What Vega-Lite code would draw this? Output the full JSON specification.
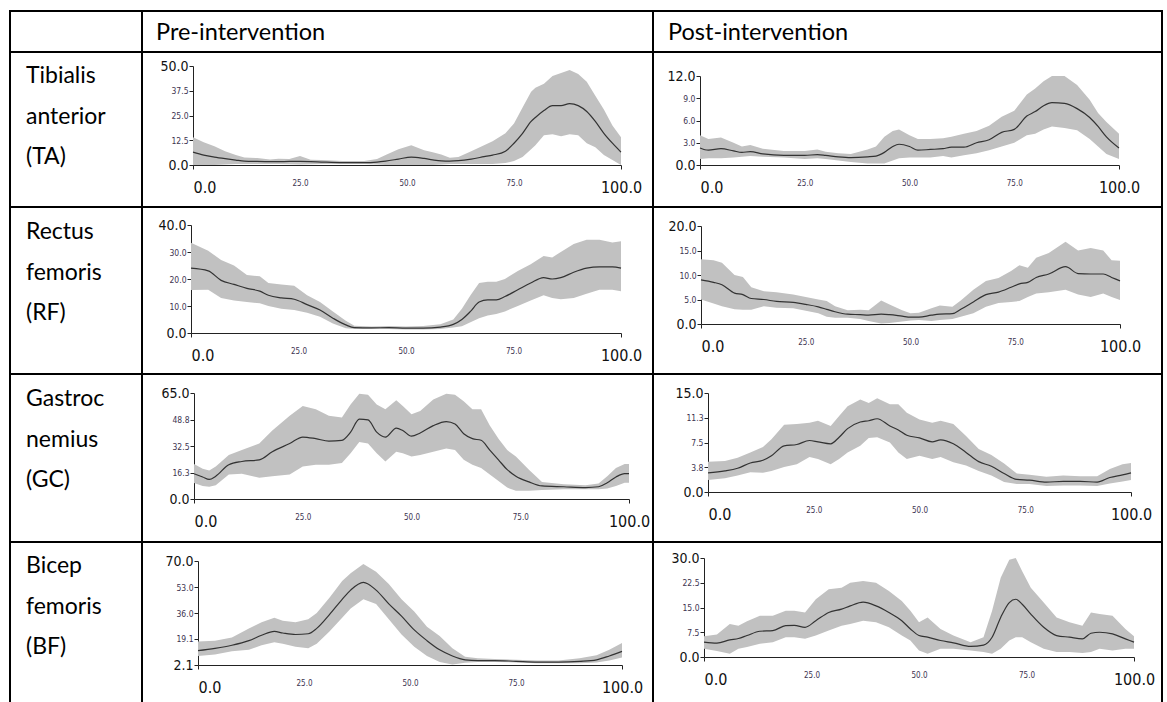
{
  "$schema": "https://vega.github.io/schema/vega-lite/v6.json",
  "background": "white",
  "padding": {"left": 9, "top": 10, "right": 6, "bottom": 0},
  "spacing": 0,
  "bounds": "flush",
  "align": "each",
  "columns": 3,
  "config": {
    "view": {"stroke": "black", "strokeWidth": 2},
    "axis": {"grid": false, "domainColor": "#222", "tickColor": "#222", "tickSize": 4, "domainWidth": 1, "tickWidth": 1, "labelOverlap": false, "labelFont": "Liberation Sans Narrow, Arial Narrow, DejaVu Sans Condensed, Liberation Sans, sans-serif"},
    "axisX": {"labelFlush": false, "labelPadding": 10, "labelBaseline": "top", "labelOverlap": false},
    "axisY": {"labelPadding": 1, "labelOverlap": false}
  },
  "datasets": {
    "ta_pre": [
      {"t":0,"m":6.5,"lo":0,"hi":14},{"t":2.5,"m":5,"lo":0,"hi":11.5},{"t":5,"m":4,"lo":0,"hi":9.5},{"t":7.5,"m":3.2,"lo":0.3,"hi":7},{"t":10,"m":2.5,"lo":0.5,"hi":5},{"t":12,"m":2,"lo":0.5,"hi":3.8},{"t":15,"m":1.8,"lo":0.5,"hi":3.5},{"t":18,"m":1.7,"lo":0.5,"hi":2.8},{"t":20,"m":1.7,"lo":0.5,"hi":3.2},{"t":22.5,"m":1.8,"lo":0.4,"hi":3},{"t":25,"m":1.8,"lo":0.3,"hi":4.5},{"t":27.5,"m":1.7,"lo":0.4,"hi":2.7},{"t":30,"m":1.5,"lo":0.5,"hi":2.5},{"t":35,"m":1.2,"lo":0.5,"hi":2},{"t":40,"m":1.2,"lo":0.5,"hi":2},{"t":43,"m":1.5,"lo":0.3,"hi":3},{"t":45,"m":2,"lo":0,"hi":5},{"t":48,"m":3,"lo":0,"hi":8},{"t":51,"m":4,"lo":0,"hi":10},{"t":54,"m":3.3,"lo":0,"hi":7.5},{"t":56,"m":2.6,"lo":0,"hi":6.5},{"t":58,"m":2.1,"lo":0.3,"hi":5.3},{"t":60,"m":2,"lo":0.5,"hi":3.6},{"t":62,"m":2.2,"lo":0.5,"hi":4},{"t":65,"m":3,"lo":0.5,"hi":7},{"t":68,"m":4.2,"lo":0.5,"hi":10},{"t":70,"m":5,"lo":0.5,"hi":12},{"t":73,"m":7,"lo":1,"hi":16},{"t":75,"m":11,"lo":2,"hi":21},{"t":77,"m":16,"lo":4,"hi":29},{"t":79,"m":22,"lo":8,"hi":37},{"t":80,"m":24,"lo":10,"hi":39},{"t":82,"m":27.5,"lo":15,"hi":41},{"t":84,"m":30,"lo":15.5,"hi":45},{"t":86,"m":30,"lo":14.5,"hi":46.5},{"t":88,"m":31,"lo":15.5,"hi":48},{"t":90,"m":30,"lo":15,"hi":46},{"t":92,"m":27,"lo":11,"hi":42},{"t":94,"m":22,"lo":9,"hi":35},{"t":96,"m":16,"lo":5,"hi":28},{"t":98,"m":11,"lo":2.5,"hi":20},{"t":100,"m":6.5,"lo":0,"hi":14}
    ],
    "ta_post": [
      {"t":0,"m":2.3,"lo":0.8,"hi":4.0},{"t":2,"m":2.0,"lo":0.9,"hi":3.5},{"t":5,"m":2.2,"lo":0.9,"hi":3.7},{"t":8,"m":1.9,"lo":1.0,"hi":3.0},{"t":10,"m":1.7,"lo":1.1,"hi":2.5},{"t":12,"m":1.8,"lo":1.2,"hi":2.7},{"t":15,"m":1.5,"lo":1.1,"hi":2.2},{"t":20,"m":1.3,"lo":1.0,"hi":1.9},{"t":25,"m":1.3,"lo":0.8,"hi":1.9},{"t":28,"m":1.4,"lo":0.9,"hi":2.1},{"t":30,"m":1.3,"lo":0.8,"hi":1.8},{"t":33,"m":1.1,"lo":0.6,"hi":1.6},{"t":36,"m":1.0,"lo":0.4,"hi":1.5},{"t":40,"m":1.1,"lo":0.2,"hi":2.1},{"t":42,"m":1.2,"lo":0.2,"hi":2.5},{"t":44,"m":1.7,"lo":0.2,"hi":3.8},{"t":46,"m":2.5,"lo":0.6,"hi":4.6},{"t":47.5,"m":2.8,"lo":0.9,"hi":4.8},{"t":50,"m":2.5,"lo":1.0,"hi":4.0},{"t":52,"m":2.0,"lo":1.0,"hi":3.5},{"t":55,"m":2.1,"lo":1.0,"hi":3.5},{"t":58,"m":2.2,"lo":1.2,"hi":3.6},{"t":60,"m":2.4,"lo":1.0,"hi":3.8},{"t":63,"m":2.4,"lo":1.3,"hi":4.2},{"t":66,"m":3.0,"lo":1.6,"hi":4.6},{"t":69,"m":3.4,"lo":2.0,"hi":5.3},{"t":72,"m":4.4,"lo":2.5,"hi":6.5},{"t":75,"m":4.8,"lo":3.0,"hi":7.3},{"t":78,"m":6.6,"lo":4.0,"hi":9.5},{"t":80,"m":7.2,"lo":4.2,"hi":10.3},{"t":82,"m":8.0,"lo":4.8,"hi":11.3},{"t":84,"m":8.4,"lo":5.2,"hi":12.0},{"t":87,"m":8.3,"lo":5.0,"hi":12.0},{"t":90,"m":7.6,"lo":4.7,"hi":10.8},{"t":93,"m":6.4,"lo":3.5,"hi":8.8},{"t":95,"m":5.2,"lo":2.5,"hi":7.0},{"t":97,"m":3.8,"lo":1.5,"hi":5.8},{"t":100,"m":2.3,"lo":0.8,"hi":4.2}
    ],
    "rf_pre": [
      {"t":0,"m":24,"lo":15.9,"hi":33.4},{"t":4,"m":23,"lo":16,"hi":30.5},{"t":7,"m":19.5,"lo":13,"hi":27},{"t":10,"m":18,"lo":12,"hi":25},{"t":13,"m":16.5,"lo":11.5,"hi":21.5},{"t":16,"m":15.5,"lo":11,"hi":21},{"t":18,"m":14,"lo":10,"hi":18.5},{"t":21,"m":13,"lo":9,"hi":18},{"t":24,"m":12.5,"lo":8.5,"hi":17.5},{"t":27,"m":10.5,"lo":7.5,"hi":14},{"t":30,"m":8.5,"lo":6,"hi":11.5},{"t":33,"m":5.5,"lo":3.5,"hi":8},{"t":36,"m":3,"lo":1.8,"hi":4.5},{"t":38,"m":2.0,"lo":1.5,"hi":2.7},{"t":42,"m":1.9,"lo":1.5,"hi":2.4},{"t":46,"m":2.0,"lo":1.5,"hi":2.6},{"t":50,"m":1.8,"lo":1.3,"hi":2.4},{"t":54,"m":1.8,"lo":1.3,"hi":2.6},{"t":58,"m":2.2,"lo":1.5,"hi":3.2},{"t":61,"m":3.2,"lo":2.0,"hi":5},{"t":63,"m":5,"lo":2.5,"hi":9},{"t":65,"m":8,"lo":4,"hi":14},{"t":67,"m":11.5,"lo":5.5,"hi":18.5},{"t":69,"m":12.3,"lo":6.5,"hi":19},{"t":71,"m":12.3,"lo":7,"hi":19},{"t":73,"m":13.5,"lo":8,"hi":20},{"t":76,"m":16,"lo":10,"hi":23},{"t":79,"m":18.5,"lo":12,"hi":25.5},{"t":82,"m":20.5,"lo":14,"hi":28.5},{"t":84,"m":20,"lo":13,"hi":28},{"t":86,"m":20.5,"lo":12.5,"hi":30},{"t":89,"m":22.5,"lo":13,"hi":33},{"t":92,"m":24,"lo":14.5,"hi":34.5},{"t":95,"m":24.5,"lo":16,"hi":34.5},{"t":98,"m":24.5,"lo":16,"hi":33.5},{"t":100,"m":24,"lo":15.5,"hi":34}
    ],
    "rf_post": [
      {"t":0,"m":9,"lo":5,"hi":13.2},{"t":3,"m":8.5,"lo":4.2,"hi":13},{"t":5,"m":8,"lo":3.6,"hi":12.5},{"t":8,"m":6.3,"lo":3,"hi":10},{"t":10,"m":6.0,"lo":2.9,"hi":9.6},{"t":12,"m":5.2,"lo":2.9,"hi":7.5},{"t":15,"m":5.0,"lo":3.6,"hi":6.7},{"t":18,"m":4.6,"lo":3.3,"hi":6.5},{"t":22,"m":4.4,"lo":3.2,"hi":6.0},{"t":25,"m":4.0,"lo":2.7,"hi":5.5},{"t":28,"m":3.5,"lo":2.2,"hi":5.0},{"t":30,"m":3.0,"lo":1.5,"hi":4.7},{"t":32,"m":2.5,"lo":1.3,"hi":3.6},{"t":35,"m":2.0,"lo":1.3,"hi":2.8},{"t":38,"m":1.9,"lo":1.0,"hi":2.9},{"t":40,"m":1.8,"lo":0.6,"hi":2.8},{"t":43,"m":2.0,"lo":0.1,"hi":4.8},{"t":45,"m":1.9,"lo":0.2,"hi":4.0},{"t":48,"m":1.6,"lo":0.5,"hi":2.8},{"t":50,"m":1.4,"lo":0.7,"hi":2.2},{"t":52,"m":1.4,"lo":0.8,"hi":2.3},{"t":55,"m":1.8,"lo":0.6,"hi":3.2},{"t":57,"m":2.0,"lo":0.8,"hi":3.8},{"t":60,"m":2.1,"lo":1.0,"hi":3.5},{"t":62,"m":3.0,"lo":1.5,"hi":4.8},{"t":65,"m":4.5,"lo":2.2,"hi":7.0},{"t":68,"m":6.0,"lo":3.5,"hi":8.8},{"t":71,"m":6.5,"lo":4.3,"hi":9.4},{"t":74,"m":7.5,"lo":4.5,"hi":10.8},{"t":76,"m":8.2,"lo":4.7,"hi":12},{"t":78,"m":8.5,"lo":5.5,"hi":11.5},{"t":80,"m":9.5,"lo":6.2,"hi":13.5},{"t":83,"m":10.2,"lo":6.5,"hi":14.5},{"t":87,"m":11.7,"lo":7.0,"hi":16.8},{"t":90,"m":10.3,"lo":6.0,"hi":15.0},{"t":93,"m":10.2,"lo":5.5,"hi":15.5},{"t":96,"m":10.2,"lo":6.2,"hi":15.0},{"t":98,"m":9.5,"lo":5.5,"hi":13.0},{"t":100,"m":8.8,"lo":4.9,"hi":12.9}
    ],
    "gc_pre": [
      {"t":0,"m":15.5,"lo":9.8,"hi":21.5},{"t":2,"m":13.5,"lo":8,"hi":18.5},{"t":3.5,"m":12,"lo":7.5,"hi":17.5},{"t":5,"m":14,"lo":8.5,"hi":20},{"t":8,"m":21,"lo":15,"hi":27},{"t":11,"m":23,"lo":15.5,"hi":30},{"t":15,"m":24,"lo":13,"hi":34},{"t":18,"m":29,"lo":14,"hi":42},{"t":22,"m":34,"lo":15,"hi":51},{"t":25,"m":38,"lo":20,"hi":57},{"t":28,"m":37,"lo":21,"hi":55},{"t":31,"m":35.5,"lo":21,"hi":51},{"t":34,"m":36,"lo":22,"hi":50},{"t":36,"m":41,"lo":28,"hi":58},{"t":38,"m":49,"lo":35,"hi":64.5},{"t":40,"m":48.5,"lo":34,"hi":64},{"t":42,"m":41,"lo":28,"hi":58},{"t":44,"m":38,"lo":23,"hi":55},{"t":46.5,"m":43.5,"lo":29,"hi":60.5},{"t":48,"m":42,"lo":28,"hi":57},{"t":50,"m":38.5,"lo":26,"hi":52},{"t":52,"m":40.5,"lo":27,"hi":54},{"t":55,"m":45,"lo":29,"hi":61},{"t":58,"m":47.5,"lo":31,"hi":64.5},{"t":60,"m":46,"lo":30,"hi":64},{"t":62,"m":40,"lo":24,"hi":60},{"t":64,"m":37,"lo":21,"hi":55},{"t":66,"m":36,"lo":19,"hi":55},{"t":68,"m":30,"lo":15,"hi":45},{"t":70,"m":24,"lo":11,"hi":37},{"t":72,"m":18,"lo":7,"hi":30},{"t":74,"m":14,"lo":5,"hi":26},{"t":77,"m":10.5,"lo":5,"hi":18},{"t":80,"m":8,"lo":5.5,"hi":10.5},{"t":85,"m":7.5,"lo":6,"hi":9},{"t":90,"m":7,"lo":6,"hi":8.5},{"t":93,"m":7.5,"lo":6,"hi":9.5},{"t":95,"m":10,"lo":6.5,"hi":14},{"t":97,"m":13.5,"lo":8,"hi":19},{"t":99,"m":15.5,"lo":10,"hi":21.5},{"t":100,"m":15.5,"lo":10,"hi":21.5}
    ],
    "gc_post": [
      {"t":0,"m":2.9,"lo":1.8,"hi":4.6},{"t":4,"m":3.2,"lo":2.1,"hi":4.7},{"t":7,"m":3.6,"lo":2.5,"hi":5.2},{"t":10,"m":4.4,"lo":3.0,"hi":6.0},{"t":13,"m":4.8,"lo":2.9,"hi":6.8},{"t":15,"m":5.5,"lo":3.2,"hi":8.0},{"t":18,"m":7.0,"lo":3.8,"hi":10.2},{"t":21,"m":7.2,"lo":4.2,"hi":10.3},{"t":24,"m":7.8,"lo":5.3,"hi":10.5},{"t":26,"m":7.6,"lo":5.0,"hi":10.8},{"t":29,"m":7.3,"lo":4.2,"hi":10.0},{"t":31,"m":8.3,"lo":5.0,"hi":11.5},{"t":33,"m":9.6,"lo":6.0,"hi":13.0},{"t":36,"m":10.6,"lo":7.0,"hi":14.0},{"t":38,"m":10.8,"lo":8.2,"hi":13.5},{"t":40,"m":11.1,"lo":8.3,"hi":14.2},{"t":43,"m":10.0,"lo":7.5,"hi":13.3},{"t":45,"m":9.4,"lo":6.0,"hi":13.3},{"t":47,"m":8.6,"lo":5.0,"hi":12.0},{"t":50,"m":8.2,"lo":5.5,"hi":11.0},{"t":53,"m":7.6,"lo":5.0,"hi":10.5},{"t":55,"m":7.9,"lo":5.3,"hi":10.8},{"t":58,"m":7.3,"lo":4.5,"hi":10.3},{"t":61,"m":6.0,"lo":4.0,"hi":8.5},{"t":64,"m":4.6,"lo":3.2,"hi":6.5},{"t":67,"m":3.9,"lo":2.5,"hi":5.6},{"t":70,"m":2.8,"lo":1.5,"hi":4.3},{"t":73,"m":1.9,"lo":1.2,"hi":2.8},{"t":76,"m":1.8,"lo":1.2,"hi":2.6},{"t":80,"m":1.5,"lo":0.9,"hi":2.3},{"t":84,"m":1.6,"lo":1.0,"hi":2.5},{"t":88,"m":1.6,"lo":1.0,"hi":2.4},{"t":92,"m":1.5,"lo":0.9,"hi":2.4},{"t":95,"m":2.2,"lo":1.3,"hi":3.5},{"t":98,"m":2.6,"lo":1.6,"hi":4.2},{"t":100,"m":2.9,"lo":1.8,"hi":4.4}
    ],
    "bf_pre": [
      {"t":0,"m":11.5,"lo":8,"hi":17.5},{"t":4,"m":13,"lo":9,"hi":18},{"t":8,"m":15,"lo":11,"hi":20},{"t":12,"m":18,"lo":12,"hi":26},{"t":15,"m":21.5,"lo":15,"hi":30},{"t":18,"m":24,"lo":17,"hi":33},{"t":20,"m":23,"lo":16,"hi":31},{"t":23,"m":22,"lo":14,"hi":30},{"t":26,"m":22.5,"lo":13,"hi":32},{"t":28,"m":26,"lo":16,"hi":36},{"t":31,"m":35,"lo":24,"hi":46},{"t":34,"m":45,"lo":33,"hi":57},{"t":36,"m":51,"lo":39,"hi":62},{"t":39,"m":56,"lo":45,"hi":68},{"t":42,"m":51,"lo":42,"hi":63},{"t":45,"m":42,"lo":32,"hi":55},{"t":48,"m":34,"lo":22,"hi":45},{"t":51,"m":25,"lo":14,"hi":37},{"t":54,"m":18,"lo":8,"hi":27},{"t":57,"m":12,"lo":4,"hi":21},{"t":60,"m":8,"lo":2.5,"hi":13},{"t":63,"m":5.5,"lo":3.5,"hi":7.5},{"t":66,"m":5,"lo":4,"hi":6.5},{"t":70,"m":5,"lo":4,"hi":6},{"t":75,"m":4.5,"lo":3.8,"hi":5.5},{"t":80,"m":4,"lo":3.3,"hi":5},{"t":85,"m":4,"lo":3.3,"hi":5},{"t":90,"m":4.5,"lo":3.3,"hi":6.5},{"t":94,"m":5.5,"lo":3.8,"hi":8.5},{"t":97,"m":8,"lo":5,"hi":12},{"t":100,"m":11,"lo":7,"hi":16.5}
    ],
    "bf_post": [
      {"t":0,"m":4.5,"lo":2.5,"hi":6.3},{"t":3,"m":4.2,"lo":1.8,"hi":6.8},{"t":6,"m":5.2,"lo":1.0,"hi":10},{"t":8,"m":5.6,"lo":2.5,"hi":9.5},{"t":10,"m":6.5,"lo":3.0,"hi":10.8},{"t":13,"m":7.8,"lo":4.0,"hi":12.5},{"t":16,"m":8.0,"lo":4.5,"hi":12.5},{"t":19,"m":9.5,"lo":6.0,"hi":14.0},{"t":21,"m":9.6,"lo":6.0,"hi":14.0},{"t":23.5,"m":9.0,"lo":5.5,"hi":13.5},{"t":26,"m":11.0,"lo":6.5,"hi":17.5},{"t":29,"m":13.5,"lo":8.0,"hi":20.5},{"t":32,"m":14.5,"lo":9.5,"hi":21.0},{"t":34,"m":15.5,"lo":10.0,"hi":22.5},{"t":37,"m":16.6,"lo":11.0,"hi":23.0},{"t":40,"m":15.5,"lo":10.5,"hi":22.5},{"t":43,"m":13.5,"lo":9.0,"hi":20.0},{"t":46,"m":11.0,"lo":6.5,"hi":17.0},{"t":48,"m":8.5,"lo":5.0,"hi":14.0},{"t":50,"m":6.5,"lo":2.0,"hi":10.5},{"t":52,"m":6.0,"lo":1.0,"hi":12.0},{"t":55,"m":5.0,"lo":2.5,"hi":8.5},{"t":58,"m":4.3,"lo":2.5,"hi":6.5},{"t":62,"m":3.2,"lo":2.0,"hi":4.5},{"t":65,"m":3.6,"lo":1.5,"hi":6.0},{"t":67,"m":6.0,"lo":1.0,"hi":14.0},{"t":69,"m":12.0,"lo":2.5,"hi":24.0},{"t":71,"m":16.5,"lo":5.0,"hi":29.5},{"t":72.5,"m":17.5,"lo":6.0,"hi":30.0},{"t":74,"m":16.0,"lo":6.0,"hi":26.0},{"t":76,"m":13.0,"lo":4.5,"hi":21.0},{"t":79,"m":9.0,"lo":2.5,"hi":16.5},{"t":82,"m":6.5,"lo":1.5,"hi":12.0},{"t":85,"m":6.0,"lo":1.5,"hi":10.5},{"t":88,"m":5.5,"lo":1.2,"hi":9.5},{"t":90,"m":7.2,"lo":1.5,"hi":13.5},{"t":92,"m":7.5,"lo":2.5,"hi":13.0},{"t":95,"m":7.0,"lo":2.0,"hi":12.5},{"t":98,"m":5.5,"lo":2.5,"hi":8.5},{"t":100,"m":4.5,"lo":2.5,"hi":6.3}
    ]
  },
  "concat": [
    {"width": 132, "height": 41, "data": {"values": [{"label": " "}]},
     "mark": {"type": "text", "align": "left", "baseline": "alphabetic", "font": "Lato", "fontSize": 23, "color": "black"},
     "encoding": {"text": {"field": "label"},
       "x": {"datum": 0, "type": "quantitative", "scale": {"domain": [0, 1], "range": [14, 132]}, "axis": null},
       "y": {"datum": 0, "type": "quantitative", "scale": {"domain": [0, 1], "range": [29, 41]}, "axis": null}}},
    {"width": 511, "height": 41, "data": {"values": [{"label": "Pre-intervention"}]},
     "mark": {"type": "text", "align": "left", "baseline": "alphabetic", "font": "Lato", "fontSize": 23.5, "color": "black"},
     "encoding": {"text": {"field": "label"},
       "x": {"datum": 0, "type": "quantitative", "scale": {"domain": [0, 1], "range": [14, 511]}, "axis": null},
       "y": {"datum": 0, "type": "quantitative", "scale": {"domain": [0, 1], "range": [29, 41]}, "axis": null}}},
    {"width": 509, "height": 41, "data": {"values": [{"label": "Post-intervention"}]},
     "mark": {"type": "text", "align": "left", "baseline": "alphabetic", "font": "Lato", "fontSize": 23.5, "color": "black"},
     "encoding": {"text": {"field": "label"},
       "x": {"datum": 0, "type": "quantitative", "scale": {"domain": [0, 1], "range": [15, 509]}, "axis": null},
       "y": {"datum": 0, "type": "quantitative", "scale": {"domain": [0, 1], "range": [29, 41]}, "axis": null}}},

    {"width": 132, "height": 155, "data": {"values": [{"label": "Tibialis\nanterior\n(TA)"}]},
     "mark": {"type": "text", "align": "left", "baseline": "alphabetic", "lineBreak": "\n", "lineHeight": 40.5, "font": "Lato", "fontSize": 23, "color": "black"},
     "encoding": {"text": {"field": "label"},
       "x": {"datum": 0, "type": "quantitative", "scale": {"domain": [0, 1], "range": [16, 132]}, "axis": null},
       "y": {"datum": 0, "type": "quantitative", "scale": {"domain": [0, 1], "range": [31, 155]}, "axis": null}}},
    {"width": 511, "height": 155, "data": {"name": "ta_pre"},
     "layer": [
       {"mark": {"type": "area", "color": "#c1c1c1"},
        "encoding": {
          "x": {"field": "t", "type": "quantitative", "title": null, "scale": {"domain": [0, 100], "range": [51, 479], "nice": false, "zero": false},
                "axis": {"values": [0, 25, 50, 75, 100], "tickCount": 10, "format": ".1f", "offset": -42, "labelOverlap": false,
                         "labelAlign": {"condition": {"test": "datum.index == 0", "value": "left"}, "value": "center"},
                         "labelFontSize": {"condition": {"test": "datum.index == 0 || datum.index == 1", "value": 16}, "value": 8},
                         "labelColor": {"condition": {"test": "datum.index == 0 || datum.index == 1", "value": "#111"}, "value": "#3d3350"},
                         "tickOpacity": {"condition": {"test": "datum.index == 0 || datum.index == 1", "value": 1}, "value": 0}}},
          "y": {"field": "lo", "type": "quantitative", "title": null, "scale": {"domain": [0, 50], "range": [113, 14], "nice": false, "zero": false},
                "axis": {"values": [0, 12.5, 25, 37.5, 50], "tickCount": 10, "format": ".1f", "offset": -51, "labelOverlap": false,
                         "labelFontSize": {"condition": {"test": "datum.index == 0 || datum.index == 1", "value": 14}, "value": 8.5},
                         "labelColor": {"condition": {"test": "datum.index == 0 || datum.index == 1", "value": "#111"}, "value": "#3d3350"}}},
          "y2": {"field": "hi"}}},
       {"mark": {"type": "line", "color": "#333", "strokeWidth": 1.2, "interpolate": "monotone"},
        "encoding": {"x": {"field": "t", "type": "quantitative", "title": null}, "y": {"field": "m", "type": "quantitative", "title": null}}}
     ]},
    {"width": 509, "height": 155, "data": {"name": "ta_post"},
     "layer": [
       {"mark": {"type": "area", "color": "#c1c1c1"},
        "encoding": {
          "x": {"field": "t", "type": "quantitative", "title": null, "scale": {"domain": [0, 100], "range": [47, 466], "nice": false, "zero": false},
                "axis": {"values": [0, 25, 50, 75, 100], "tickCount": 10, "format": ".1f", "offset": -42, "labelOverlap": false,
                         "labelAlign": {"condition": {"test": "datum.index == 0", "value": "left"}, "value": "center"},
                         "labelFontSize": {"condition": {"test": "datum.index == 0 || datum.index == 1", "value": 16}, "value": 8},
                         "labelColor": {"condition": {"test": "datum.index == 0 || datum.index == 1", "value": "#111"}, "value": "#3d3350"},
                         "tickOpacity": {"condition": {"test": "datum.index == 0 || datum.index == 1", "value": 1}, "value": 0}}},
          "y": {"field": "lo", "type": "quantitative", "title": null, "scale": {"domain": [0, 12], "range": [113, 24], "nice": false, "zero": false},
                "axis": {"values": [0, 3, 6, 9, 12], "tickCount": 10, "format": ".1f", "offset": -47, "labelOverlap": false,
                         "labelFontSize": {"condition": {"test": "datum.index == 0 || datum.index == 1", "value": 14}, "value": 8.5},
                         "labelColor": {"condition": {"test": "datum.index == 0 || datum.index == 1", "value": "#111"}, "value": "#3d3350"}}},
          "y2": {"field": "hi"}}},
       {"mark": {"type": "line", "color": "#333", "strokeWidth": 1.2, "interpolate": "monotone"},
        "encoding": {"x": {"field": "t", "type": "quantitative", "title": null}, "y": {"field": "m", "type": "quantitative", "title": null}}}
     ]},

    {"width": 132, "height": 167, "data": {"values": [{"label": "Rectus\nfemoris\n(RF)"}]},
     "mark": {"type": "text", "align": "left", "baseline": "alphabetic", "lineBreak": "\n", "lineHeight": 40.5, "font": "Lato", "fontSize": 23, "color": "black"},
     "encoding": {"text": {"field": "label"},
       "x": {"datum": 0, "type": "quantitative", "scale": {"domain": [0, 1], "range": [16, 132]}, "axis": null},
       "y": {"datum": 0, "type": "quantitative", "scale": {"domain": [0, 1], "range": [32, 167]}, "axis": null}}},
    {"width": 511, "height": 167, "data": {"name": "rf_pre"},
     "layer": [
       {"mark": {"type": "area", "color": "#c1c1c1"},
        "encoding": {
          "x": {"field": "t", "type": "quantitative", "title": null, "scale": {"domain": [0, 100], "range": [49, 479], "nice": false, "zero": false},
                "axis": {"values": [0, 25, 50, 75, 100], "tickCount": 10, "format": ".1f", "offset": -41, "labelOverlap": false,
                         "labelAlign": {"condition": {"test": "datum.index == 0", "value": "left"}, "value": "center"},
                         "labelFontSize": {"condition": {"test": "datum.index == 0 || datum.index == 1", "value": 16}, "value": 8},
                         "labelColor": {"condition": {"test": "datum.index == 0 || datum.index == 1", "value": "#111"}, "value": "#3d3350"},
                         "tickOpacity": {"condition": {"test": "datum.index == 0 || datum.index == 1", "value": 1}, "value": 0}}},
          "y": {"field": "lo", "type": "quantitative", "title": null, "scale": {"domain": [0, 40], "range": [126, 18], "nice": false, "zero": false},
                "axis": {"values": [0, 10, 20, 30, 40], "tickCount": 10, "format": ".1f", "offset": -49, "labelOverlap": false,
                         "labelFontSize": {"condition": {"test": "datum.index == 0 || datum.index == 1", "value": 14}, "value": 8.5},
                         "labelColor": {"condition": {"test": "datum.index == 0 || datum.index == 1", "value": "#111"}, "value": "#3d3350"}}},
          "y2": {"field": "hi"}}},
       {"mark": {"type": "line", "color": "#333", "strokeWidth": 1.2, "interpolate": "monotone"},
        "encoding": {"x": {"field": "t", "type": "quantitative", "title": null}, "y": {"field": "m", "type": "quantitative", "title": null}}}
     ]},
    {"width": 509, "height": 167, "data": {"name": "rf_post"},
     "layer": [
       {"mark": {"type": "area", "color": "#c1c1c1"},
        "encoding": {
          "x": {"field": "t", "type": "quantitative", "title": null, "scale": {"domain": [0, 100], "range": [48, 467], "nice": false, "zero": false},
                "axis": {"values": [0, 25, 50, 75, 100], "tickCount": 10, "format": ".1f", "offset": -50, "labelOverlap": false,
                         "labelAlign": {"condition": {"test": "datum.index == 0", "value": "left"}, "value": "center"},
                         "labelFontSize": {"condition": {"test": "datum.index == 0 || datum.index == 1", "value": 16}, "value": 8},
                         "labelColor": {"condition": {"test": "datum.index == 0 || datum.index == 1", "value": "#111"}, "value": "#3d3350"},
                         "tickOpacity": {"condition": {"test": "datum.index == 0 || datum.index == 1", "value": 1}, "value": 0}}},
          "y": {"field": "lo", "type": "quantitative", "title": null, "scale": {"domain": [0, 20], "range": [117, 19], "nice": false, "zero": false},
                "axis": {"values": [0, 5, 10, 15, 20], "tickCount": 10, "format": ".1f", "offset": -48, "labelOverlap": false,
                         "labelFontSize": {"condition": {"test": "datum.index == 0 || datum.index == 1", "value": 14}, "value": 8.5},
                         "labelColor": {"condition": {"test": "datum.index == 0 || datum.index == 1", "value": "#111"}, "value": "#3d3350"}}},
          "y2": {"field": "hi"}}},
       {"mark": {"type": "line", "color": "#333", "strokeWidth": 1.2, "interpolate": "monotone"},
        "encoding": {"x": {"field": "t", "type": "quantitative", "title": null}, "y": {"field": "m", "type": "quantitative", "title": null}}}
     ]},

    {"width": 132, "height": 168, "data": {"values": [{"label": "Gastroc\nnemius\n(GC)"}]},
     "mark": {"type": "text", "align": "left", "baseline": "alphabetic", "lineBreak": "\n", "lineHeight": 40.5, "font": "Lato", "fontSize": 23, "color": "black"},
     "encoding": {"text": {"field": "label"},
       "x": {"datum": 0, "type": "quantitative", "scale": {"domain": [0, 1], "range": [16, 132]}, "axis": null},
       "y": {"datum": 0, "type": "quantitative", "scale": {"domain": [0, 1], "range": [32, 168]}, "axis": null}}},
    {"width": 511, "height": 168, "data": {"name": "gc_pre"},
     "layer": [
       {"mark": {"type": "area", "color": "#c1c1c1"},
        "encoding": {
          "x": {"field": "t", "type": "quantitative", "title": null, "scale": {"domain": [0, 100], "range": [52, 487], "nice": false, "zero": false},
                "axis": {"values": [0, 25, 50, 75, 100], "tickCount": 10, "format": ".1f", "offset": -43, "labelOverlap": false,
                         "labelAlign": {"condition": {"test": "datum.index == 0", "value": "left"}, "value": "center"},
                         "labelFontSize": {"condition": {"test": "datum.index == 0 || datum.index == 1", "value": 16}, "value": 8},
                         "labelColor": {"condition": {"test": "datum.index == 0 || datum.index == 1", "value": "#111"}, "value": "#3d3350"},
                         "tickOpacity": {"condition": {"test": "datum.index == 0 || datum.index == 1", "value": 1}, "value": 0}}},
          "y": {"field": "lo", "type": "quantitative", "title": null, "scale": {"domain": [0, 65], "range": [125, 19], "nice": false, "zero": false},
                "axis": {"values": [0, 16.25, 32.5, 48.75, 65], "tickCount": 10, "format": ".1f", "offset": -52, "labelOverlap": false,
                         "labelFontSize": {"condition": {"test": "datum.index == 0 || datum.index == 1", "value": 14}, "value": 8.5},
                         "labelColor": {"condition": {"test": "datum.index == 0 || datum.index == 1", "value": "#111"}, "value": "#3d3350"}}},
          "y2": {"field": "hi"}}},
       {"mark": {"type": "line", "color": "#333", "strokeWidth": 1.2, "interpolate": "monotone"},
        "encoding": {"x": {"field": "t", "type": "quantitative", "title": null}, "y": {"field": "m", "type": "quantitative", "title": null}}}
     ]},
    {"width": 509, "height": 168, "data": {"name": "gc_post"},
     "layer": [
       {"mark": {"type": "area", "color": "#c1c1c1"},
        "encoding": {
          "x": {"field": "t", "type": "quantitative", "title": null, "scale": {"domain": [0, 100], "range": [55, 478], "nice": false, "zero": false},
                "axis": {"values": [0, 25, 50, 75, 100], "tickCount": 10, "format": ".1f", "offset": -50, "labelOverlap": false,
                         "labelAlign": {"condition": {"test": "datum.index == 0", "value": "left"}, "value": "center"},
                         "labelFontSize": {"condition": {"test": "datum.index == 0 || datum.index == 1", "value": 16}, "value": 8},
                         "labelColor": {"condition": {"test": "datum.index == 0 || datum.index == 1", "value": "#111"}, "value": "#3d3350"},
                         "tickOpacity": {"condition": {"test": "datum.index == 0 || datum.index == 1", "value": 1}, "value": 0}}},
          "y": {"field": "lo", "type": "quantitative", "title": null, "scale": {"domain": [0, 15], "range": [118, 19], "nice": false, "zero": false},
                "axis": {"values": [0, 3.75, 7.5, 11.25, 15], "tickCount": 10, "format": ".1f", "offset": -55, "labelOverlap": false,
                         "labelFontSize": {"condition": {"test": "datum.index == 0 || datum.index == 1", "value": 14}, "value": 8.5},
                         "labelColor": {"condition": {"test": "datum.index == 0 || datum.index == 1", "value": "#111"}, "value": "#3d3350"}}},
          "y2": {"field": "hi"}}},
       {"mark": {"type": "line", "color": "#333", "strokeWidth": 1.2, "interpolate": "monotone"},
        "encoding": {"x": {"field": "t", "type": "quantitative", "title": null}, "y": {"field": "m", "type": "quantitative", "title": null}}}
     ]},

    {"width": 132, "height": 161, "data": {"values": [{"label": "Bicep\nfemoris\n(BF)"}]},
     "mark": {"type": "text", "align": "left", "baseline": "alphabetic", "lineBreak": "\n", "lineHeight": 40.5, "font": "Lato", "fontSize": 23, "color": "black"},
     "encoding": {"text": {"field": "label"},
       "x": {"datum": 0, "type": "quantitative", "scale": {"domain": [0, 1], "range": [16, 132]}, "axis": null},
       "y": {"datum": 0, "type": "quantitative", "scale": {"domain": [0, 1], "range": [31, 161]}, "axis": null}}},
    {"width": 511, "height": 161, "data": {"name": "bf_pre"},
     "layer": [
       {"mark": {"type": "area", "color": "#c1c1c1"},
        "encoding": {
          "x": {"field": "t", "type": "quantitative", "title": null, "scale": {"domain": [0, 100], "range": [56, 480], "nice": false, "zero": false},
                "axis": {"values": [0, 25, 50, 75, 100], "tickCount": 10, "format": ".1f", "offset": -38, "labelOverlap": false,
                         "labelAlign": {"condition": {"test": "datum.index == 0", "value": "left"}, "value": "center"},
                         "labelFontSize": {"condition": {"test": "datum.index == 0 || datum.index == 1", "value": 16}, "value": 8},
                         "labelColor": {"condition": {"test": "datum.index == 0 || datum.index == 1", "value": "#111"}, "value": "#3d3350"},
                         "tickOpacity": {"condition": {"test": "datum.index == 0 || datum.index == 1", "value": 1}, "value": 0}}},
          "y": {"field": "lo", "type": "quantitative", "title": null, "scale": {"domain": [2.1, 70], "range": [123, 19], "nice": false, "zero": false},
                "axis": {"values": [2.1, 19.1, 36.0, 53.0, 70.0], "tickCount": 10, "format": ".1f", "offset": -56, "labelOverlap": false,
                         "labelFontSize": {"condition": {"test": "datum.index == 0 || datum.index == 1", "value": 14}, "value": 8.5},
                         "labelColor": {"condition": {"test": "datum.index == 0 || datum.index == 1", "value": "#111"}, "value": "#3d3350"}}},
          "y2": {"field": "hi"}}},
       {"mark": {"type": "line", "color": "#333", "strokeWidth": 1.2, "interpolate": "monotone"},
        "encoding": {"x": {"field": "t", "type": "quantitative", "title": null}, "y": {"field": "m", "type": "quantitative", "title": null}}}
     ]},
    {"width": 509, "height": 161, "data": {"name": "bf_post"},
     "layer": [
       {"mark": {"type": "area", "color": "#c1c1c1"},
        "encoding": {
          "x": {"field": "t", "type": "quantitative", "title": null, "scale": {"domain": [0, 100], "range": [51, 481], "nice": false, "zero": false},
                "axis": {"values": [0, 25, 50, 75, 100], "tickCount": 10, "format": ".1f", "offset": -46, "labelOverlap": false,
                         "labelAlign": {"condition": {"test": "datum.index == 0", "value": "left"}, "value": "center"},
                         "labelFontSize": {"condition": {"test": "datum.index == 0 || datum.index == 1", "value": 16}, "value": 8},
                         "labelColor": {"condition": {"test": "datum.index == 0 || datum.index == 1", "value": "#111"}, "value": "#3d3350"},
                         "tickOpacity": {"condition": {"test": "datum.index == 0 || datum.index == 1", "value": 1}, "value": 0}}},
          "y": {"field": "lo", "type": "quantitative", "title": null, "scale": {"domain": [0, 30], "range": [115, 16], "nice": false, "zero": false},
                "axis": {"values": [0, 7.5, 15, 22.5, 30], "tickCount": 10, "format": ".1f", "offset": -51, "labelOverlap": false,
                         "labelFontSize": {"condition": {"test": "datum.index == 0 || datum.index == 1", "value": 14}, "value": 8.5},
                         "labelColor": {"condition": {"test": "datum.index == 0 || datum.index == 1", "value": "#111"}, "value": "#3d3350"}}},
          "y2": {"field": "hi"}}},
       {"mark": {"type": "line", "color": "#333", "strokeWidth": 1.2, "interpolate": "monotone"},
        "encoding": {"x": {"field": "t", "type": "quantitative", "title": null}, "y": {"field": "m", "type": "quantitative", "title": null}}}
     ]}
  ]
}
